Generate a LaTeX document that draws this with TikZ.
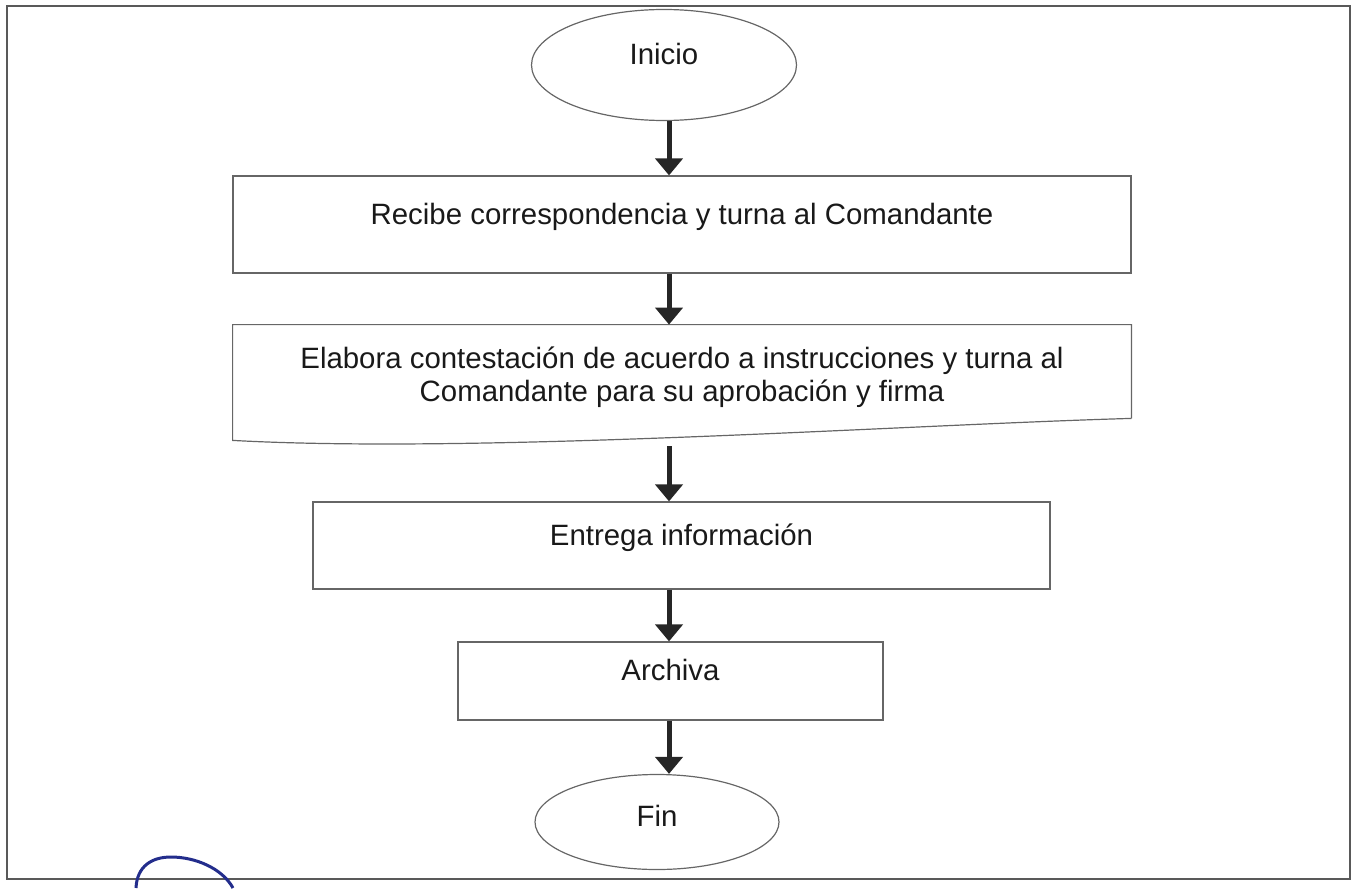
\documentclass[tikz,border=0pt]{standalone}
\usepackage{fontspec}
\setmainfont{Liberation Sans}
\usetikzlibrary{shapes.geometric,arrows.meta,positioning}
\definecolor{ink}{RGB}{35,45,140}

\begin{document}
\begin{tikzpicture}[x=0.5pt, y=-0.5pt, font=\fontsize{14.7}{16.5}\selectfont,
  block/.style={rectangle, draw=black!60, line width=0.6pt, text=black!90, align=center, text depth=11pt},
  term/.style={ellipse, draw=black!60, line width=0.6pt, inner sep=0pt, text=black!90, text depth=11pt},
  arrow/.style={-{Triangle[width=13.5pt, length=8.5pt]}, line width=2.5pt, draw=black!85}]
\useasboundingbox (0,0) rectangle (1358,888);
\draw[black!65, line width=1pt] (7,6) rectangle (1350,879);
\coordinate (axis) at (669,0);
\node[term, minimum width=132.5pt, minimum height=55.5pt] (inicio) at (664,65) {Inicio};
\node[block, minimum width=449pt, minimum height=48.5pt] (recibe) at (682,224.5) {Recibe correspondencia y turna al Comandante};
\node[align=center, text=black!90, minimum width=449pt, minimum height=46.5pt, inner sep=0pt] (elabora) at (682,371.5) {\rule{0pt}{16.7pt}Elabora contestación de acuerdo a instrucciones y turna al\\ Comandante para su aprobación y firma};
\draw[black!60, line width=0.6pt] (elabora.south east) -- (elabora.north east) -- (elabora.north west) -- ([yshift=-11pt]elabora.south west) .. controls (480,454) and (900,425) .. (elabora.south east);
\coordinate (wave) at (669,446);
\node[block, minimum width=368.5pt, minimum height=43.5pt] (entrega) at (681.5,545.5) {Entrega información};
\node[block, minimum width=212.5pt, minimum height=39pt] (archiva) at (670.5,681) {Archiva};
\node[term, minimum width=122pt, minimum height=47.5pt, text depth=6pt] (fin) at (657,822) {Fin};
\draw[arrow] (inicio.south -| axis) -- (recibe.north -| axis); \draw[arrow] (recibe.south -| axis) -- (elabora.north -| axis);
\draw[arrow] (wave) -- (entrega.north -| axis); \draw[arrow] (entrega.south -| axis) -- (archiva.north -| axis); \draw[arrow] (archiva.south -| axis) -- (fin.north -| axis);
% trazo azul de la firma
\draw[ink, line width=1.5pt] (136,888) .. controls (137,866) and (152,857) .. (171,857) .. controls (195,857) and (222,868) .. (233,888);
\end{tikzpicture}
\end{document}
